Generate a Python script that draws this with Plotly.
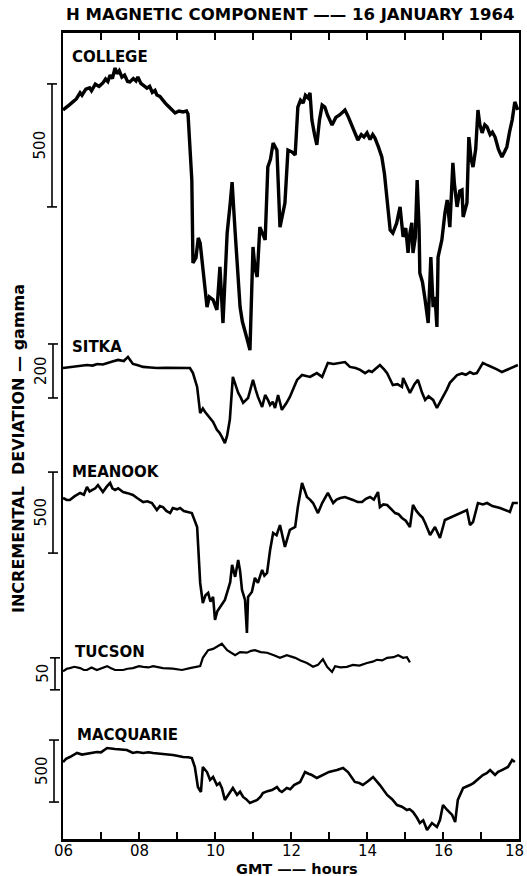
import plotly.graph_objects as go

# ---------------- data (hours GMT, incremental deviation in gamma) ----------------
college_t = [6.00, 6.08, 6.16, 6.26, 6.35, 6.45, 6.50, 6.60, 6.70, 6.75, 6.85, 6.95, 7.05, 7.12, 7.18, 7.24,
             7.30, 7.37, 7.42, 7.48, 7.55, 7.62, 7.70, 7.76, 7.85, 7.92, 7.97, 8.05, 8.12, 8.21, 8.28, 8.35,
             8.42, 8.47, 8.55, 8.62, 8.68, 8.74, 8.82, 8.90, 8.95, 9.05, 9.16, 9.25, 9.29,
             9.39, 9.42, 9.50, 9.56, 9.61, 9.68, 9.73, 9.79, 9.85, 9.95, 10.05, 10.13, 10.21, 10.27, 10.32,
             10.40, 10.45, 10.53, 10.60, 10.66, 10.72, 10.79, 10.86, 10.92,
             11.00, 11.05, 11.11, 11.18, 11.25, 11.32, 11.39, 11.46, 11.53, 11.63, 11.71, 11.78, 11.84, 11.92,
             12.02, 12.11, 12.18, 12.25, 12.32, 12.38, 12.45, 12.50,
             12.55, 12.62, 12.68, 12.75, 12.82, 12.89, 12.96, 13.08, 13.18, 13.28, 13.42, 13.50, 13.61, 13.68,
             13.76, 13.85, 13.92, 14.00, 14.08, 14.15, 14.21, 14.30, 14.39, 14.46, 14.53, 14.61, 14.68, 14.78,
             14.87, 14.95, 15.02, 15.08, 15.13, 15.18, 15.21, 15.27, 15.32, 15.37, 15.39, 15.46, 15.53, 15.61,
             15.68, 15.74, 15.79, 15.84, 15.87, 15.97,
             16.05, 16.11, 16.18, 16.26, 16.30, 16.37, 16.44, 16.50, 16.53, 16.63, 16.68, 16.74, 16.79, 16.86,
             16.92, 16.97, 17.03, 17.10, 17.16, 17.24, 17.30, 17.37, 17.46, 17.55,
             17.62, 17.68, 17.75, 17.82, 17.89, 17.93, 17.97]
college_v = [0, 12, 20, 33, 45, 70, 60, 85, 90, 78, 105, 96, 110, 126, 116, 142,
             128, 171, 148, 160, 134, 142, 116, 114, 128, 118, 134, 108, 100, 89, 96, 72,
             80, 61, 55, 44, 30, 20, 6, -4, -12, -4, -8, -4, -16,
             -285, -622, -600, -520, -541, -650, -700, -801, -760, -772, -813, -638, -866, -640, -500,
             -380, -293, -496, -650, -801, -860, -906, -940, -976,
             -557, -640, -679, -476, -500, -528, -232, -200, -134, -163, -476, -420, -378, -163,
             -170, -183, 12, 40, 28, 60, 49, 70,
             -41, -100, -142, -40, 20, 12, -20, -61, -30, -20, 0, -25, -69, -90,
             -122, -100, -110, -93, -120, -100, -114, -150, -191, -260, -354, -488, -500, -460,
             -394, -516, -480, -581, -500, -459, -581, -520, -285, -476, -663, -700, -772, -866,
             -598, -801, -760, -882, -598, -528,
             -420, -366, -476, -215, -300, -394, -330, -325, -435, -378, -110, -200, -232, -160,
             0, -60, -93, -60, -69, -100, -90, -110, -160, -191,
             -170, -150, -90, -41, 33, 10, 0]

sitka_t = [6.00, 6.15, 6.30, 6.45, 6.63, 6.78, 6.90, 7.05, 7.16, 7.30, 7.45, 7.60, 7.71, 7.84, 7.95, 8.11,
           8.30, 8.47, 8.70, 9.00, 9.20, 9.34, 9.42, 9.53, 9.61, 9.68, 9.74,
           9.87, 9.95, 10.05, 10.12, 10.18, 10.26, 10.32, 10.39, 10.47, 10.55, 10.61, 10.68, 10.74, 10.87, 11.00,
           11.07, 11.13, 11.24, 11.32, 11.40, 11.45, 11.52,
           11.58, 11.66, 11.76, 11.88, 11.97, 12.08, 12.16, 12.29, 12.40, 12.50, 12.60, 12.68, 12.82, 12.97,
           13.12, 13.29, 13.42, 13.55, 13.70, 13.82,
           13.95, 14.05, 14.13, 14.25, 14.34, 14.45, 14.53, 14.60, 14.68, 14.80, 14.92, 14.95, 15.05, 15.13,
           15.25, 15.34, 15.45, 15.53, 15.62, 15.74, 15.84, 16.00,
           16.10, 16.18, 16.28, 16.37, 16.50, 16.60, 16.71, 16.80, 16.89, 17.05, 17.18, 17.29, 17.42, 17.55,
           17.66, 17.76, 17.88, 17.97]
sitka_v = [0, 2, 4, 8, 11, 9, 15, 13, 19, 24, 30, 26, 41, 15, 11, 4,
           2, 0, 1, 0, -2, 0, -19, -70, -167, -150, -163,
           -185, -200, -229, -240, -255, -278, -250, -192, -33, -70, -92, -110, -129, -111, -44,
           -80, -107, -144, -100, -120, -137, -125,
           -148, -100, -155, -130, -107, -70, -44, -26, -30, -33, -25, -19, -33, 19,
           15, 19, 22, 4, 0, -7,
           -19, -10, -15, 0, 11, -5, -19, -40, -63, -60, -70, -37, -70, -92,
           -60, -44, -92, -118, -105, -118, -148, -107,
           -80, -55, -40, -26, -20, -25, -15, -22, -19, 19, 10, 4, -5, -15,
           -8, 0, 5, 11]

meanook_t = [6.00, 6.10, 6.18, 6.30, 6.45, 6.55, 6.63, 6.70, 6.76, 6.85, 6.92, 7.00, 7.05, 7.15, 7.24,
             7.30, 7.37, 7.45, 7.58, 7.70, 7.84, 7.95, 8.11, 8.22, 8.34, 8.47, 8.55, 8.63, 8.72, 8.82,
             8.89, 9.00, 9.08, 9.18, 9.26, 9.39, 9.53, 9.61, 9.68, 9.75, 9.82, 9.88, 9.95, 10.00, 10.06, 10.13,
             10.20, 10.26, 10.34, 10.40, 10.45, 10.53,
             10.61, 10.66, 10.71, 10.79, 10.84, 10.87, 10.97, 11.05, 11.13, 11.20, 11.24, 11.30, 11.37, 11.45,
             11.53, 11.62, 11.71, 11.84,
             11.97, 12.11, 12.18, 12.29, 12.36, 12.42, 12.50, 12.58, 12.71, 12.82, 12.97, 13.11, 13.20, 13.30,
             13.42, 13.52, 13.63, 13.75, 13.87, 13.97, 14.08,
             14.18, 14.29, 14.34, 14.43, 14.53, 14.63, 14.74, 14.83, 14.92, 15.02, 15.13, 15.21, 15.30, 15.39,
             15.46, 15.53, 15.60, 15.66, 15.79, 15.92, 16.05, 16.20, 16.37,
             16.50, 16.63, 16.71, 16.79, 16.92, 17.05, 17.16, 17.30, 17.50, 17.65, 17.76, 17.84, 17.97]
meanook_v = [0, -12, -12, 10, 31, 20, 68, 40, 49, 60, 80, 50, 37, 70, 93,
             60, 49, 60, 37, 30, 19, 0, -25, -20, -31, -74, -50, -56, -80, -93,
             -62, -70, -62, -80, -86, -93, -179, -524, -648, -600, -586, -640, -611, -753, -700, -672,
             -650, -629, -567, -520, -413, -487,
             -382, -450, -567, -629, -833, -611, -580, -493, -524, -470, -444, -480, -463, -321,
             -216, -230, -167, -302,
             -197, -179, -56, 93, 40, 6, -10, -31, -93, -31, 31, -31, -10, 0,
             6, -5, -12, -25, -25, -5, 6,
             -10, 37, -56, -40, -43, -70, -93, -100, -123, -140, -179, -43, -80, -105,
             -120, -154, -190, -228, -179, -247, -136, -120, -105,
             -90, -74, -167, -148, -31, -40, -31, -50, -62, -75, -86, -31, -31]

tucson_t = [6.00, 6.10, 6.18, 6.30, 6.45, 6.55, 6.63, 6.75, 6.89, 7.00, 7.16, 7.25, 7.37, 7.58, 7.70, 7.84,
            8.00, 8.11, 8.25, 8.37, 8.50, 8.63, 8.89, 9.13, 9.34, 9.61,
            9.68, 9.82, 9.95, 10.05, 10.18, 10.32, 10.45, 10.53, 10.66, 10.84, 10.95, 11.05, 11.20, 11.37, 11.55,
            11.71, 11.89, 12.11, 12.25, 12.42,
            12.58, 12.71, 12.84, 12.95, 13.08, 13.16, 13.30, 13.47, 13.63, 13.80, 14.00, 14.15, 14.26, 14.40,
            14.53, 14.70, 14.82, 14.95, 15.05, 15.13]
tucson_v = [-2, 2, 3, 5, 3, 0, 0, 4, 0, 2, 6, 3, 0, 0, 2, 3,
            6, 5, 4, 6, 4, 3, 2, 0, 3, 6,
            19, 31, 33, 36, 41, 31, 26, 23, 28, 27, 30, 31, 28, 27, 23,
            19, 23, 19, 15, 11,
            5, 8, 17, 5, -3, 6, 4, 5, 8, 7, 11, 13, 16, 15,
            19, 20, 23, 19, 20, 12]

macquarie_t = [6.00, 6.08, 6.18, 6.37, 6.50, 6.63, 6.75, 6.89, 7.00, 7.16, 7.37, 7.50, 7.68, 7.84, 7.95, 8.11,
               8.25, 8.37, 8.50, 8.63, 8.75, 8.89, 9.00, 9.16, 9.30, 9.39, 9.47,
               9.55, 9.63, 9.68, 9.79, 9.87, 9.95, 10.05, 10.12, 10.18, 10.26, 10.39, 10.47, 10.58, 10.66, 10.74,
               10.82, 10.92, 11.01, 11.11,
               11.20, 11.26, 11.38, 11.50, 11.63, 11.70, 11.76, 11.89, 11.98, 12.08, 12.24, 12.37, 12.46, 12.55,
               12.68, 12.84, 13.00, 13.21, 13.37, 13.50,
               13.68, 13.80, 13.89, 14.05, 14.16, 14.34, 14.45, 14.53, 14.66, 14.79, 14.92, 15.05, 15.12, 15.21,
               15.32, 15.39, 15.48, 15.58, 15.71, 15.84, 15.92,
               16.00, 16.11, 16.24, 16.32, 16.39, 16.53, 16.62, 16.71, 16.80, 16.89, 16.97, 17.05, 17.15, 17.24,
               17.37, 17.45, 17.55, 17.71, 17.82, 17.89]
macquarie_v = [0, 25, 40, 73, 60, 65, 70, 81, 78, 113, 105, 100, 97, 73, 80, 73,
               78, 73, 70, 65, 62, 56, 50, 40, 38, 32, -40,
               -202, -242, -40, -81, -145, -120, -186, -170, -210, -306, -250, -210, -266, -240, -282,
               -300, -331, -320, -306,
               -280, -250, -235, -226, -202, -230, -242, -210, -220, -186, -161, -81, -95, -105,
               -129, -105, -80, -65, -48, -81,
               -161, -170, -186, -150, -121, -186, -230, -266, -300, -347, -360, -387, -380, -403,
               -452, -492, -470, -548, -492, -524, -468,
               -347, -387, -427, -484, -306, -210, -200, -186, -170, -145, -130, -105, -90, -65,
               -105, -80, -65, -40, 16, 0]

stations = ["COLLEGE", "SITKA", "MEANOOK", "TUCSON", "MACQUARIE"]
series_t = [college_t, sitka_t, meanook_t, tucson_t, macquarie_t]
series_v = [college_v, sitka_v, meanook_v, tucson_v, macquarie_v]
scale_len = [500, 200, 500, 50, 500]          # gamma represented by each scale bar
scale_label = ["500", "200", "500", "50", "500"]
scale_top = [106, 89, 160, 19, 177]           # gamma value at the top of each scale bar
name_y = [215, 78, 160, 28, 218]              # gamma level of each station label
name_x = [6.18, 6.18, 6.18, 6.26, 6.32]       # hour where each station label starts

x_ticks = list(range(6, 19))
x_ticktext = [("%02d" % h if h % 2 == 0 else "") for h in x_ticks]

# ---------------- layout geometry ----------------
W, H = 527, 876
ML, MR, MT, MB = 63, 8, 33, 37
PH = H - MT - MB
bar_px = [123, 54, 81, 32, 62]        # pixel length of each scale bar
base_px = [110, 368, 498, 670, 762]   # pixel row of each station's zero line
bar_x_px = [52, 53, 53, 55, 54]
widths = [3.4, 2.6, 2.6, 2.2, 2.6]

FONT = "DejaVu Sans"
fig = go.Figure()
layout_axes = {}
shapes = []
annotations = []

def xpaper(px):
    return (px - ML) / (W - ML - MR)

def ypaper(py):
    return (MT + PH - py) / PH

for i, name in enumerate(stations):
    ax = "y" if i == 0 else "y%d" % (i + 1)
    key = "yaxis" if i == 0 else "yaxis%d" % (i + 1)
    s = bar_px[i] / scale_len[i]
    p0 = base_px[i]
    rng = [-(MT + PH - p0) / s, (p0 - MT) / s]
    cfg = dict(range=rng, domain=[0, 1], showgrid=False, zeroline=False, ticks="",
               showticklabels=False, fixedrange=True, automargin=False)
    if i == 0:
        cfg.update(showline=True, mirror=True, linecolor="black", linewidth=2.2)
    else:
        cfg.update(overlaying="y", showline=False, visible=False)
    layout_axes[key] = cfg

    fig.add_trace(go.Scatter(x=series_t[i], y=series_v[i], mode="lines", yaxis=ax,
                             line=dict(color="black", width=widths[i]),
                             showlegend=False, hoverinfo="skip"))

    top = scale_top[i]
    bot = top - scale_len[i]
    bx = xpaper(bar_x_px[i])
    c0, c1 = xpaper(bar_x_px[i] - 5), xpaper(bar_x_px[i] + 5)
    for (xa, ya, xb, yb) in [(bx, top, bx, bot), (c0, top, c1, top), (c0, bot, c1, bot)]:
        shapes.append(dict(type="line", xref="paper", yref=ax, x0=xa, y0=ya, x1=xb, y1=yb,
                           line=dict(color="black", width=1.6)))
    annotations.append(dict(x=xpaper(bar_x_px[i] - 12), y=(top + bot) / 2, xref="paper", yref=ax,
                            text=scale_label[i], textangle=-90, showarrow=False,
                            font=dict(family=FONT, size=15, color="black"),
                            xanchor="center", yanchor="middle"))
    annotations.append(dict(x=name_x[i], y=name_y[i],
                            xref="x", yref=ax, text=name, showarrow=False,
                            font=dict(family=FONT, size=15, color="black", weight="bold"),
                            xanchor="left", yanchor="middle"))

# x tick labels (drawn as text at each labelled hour, just under the frame)
for h, lab in zip(x_ticks, x_ticktext):
    if lab:
        annotations.append(dict(x=h, y=ypaper(851), xref="x", yref="paper", text=lab,
                                showarrow=False, xanchor="center", yanchor="middle",
                                xshift=(-5 if h == x_ticks[-1] else 0),
                                font=dict(family=FONT, size=15, color="black")))

annotations.append(dict(text="H MAGNETIC COMPONENT —— 16 JANUARY 1964", x=xpaper(516), y=ypaper(15),
                        xref="paper", yref="paper", xanchor="right", yanchor="middle",
                        showarrow=False, font=dict(family=FONT, size=16.5, color="black", weight="bold")))
annotations.append(dict(text="GMT —— hours", x=xpaper(297), y=ypaper(868.5), xref="paper", yref="paper",
                        xanchor="center", yanchor="middle", showarrow=False,
                        font=dict(family=FONT, size=14.5, color="black", weight="bold")))
annotations.append(dict(text="INCREMENTAL  DEVIATION — gamma", x=xpaper(18), y=ypaper(449),
                        xref="paper", yref="paper", textangle=-90, showarrow=False,
                        xanchor="center", yanchor="middle",
                        font=dict(family=FONT, size=16, color="black", weight="bold")))

fig.update_layout(
    width=W, height=H, margin=dict(l=ML, r=MR, t=MT, b=MB, autoexpand=False),
    paper_bgcolor="white", plot_bgcolor="white",
    xaxis=dict(range=[6, 18], tickvals=x_ticks, ticktext=["" for _ in x_ticks], ticks="inside", ticklen=7,
               tickwidth=1.8, tickcolor="black", showline=True, mirror="ticks", linecolor="black",
               linewidth=2.5, showgrid=False, zeroline=False, fixedrange=True, automargin=False),
    shapes=shapes, annotations=annotations, showlegend=False,
    **layout_axes
)

fig.write_html("out.html", config={"displayModeBar": False})
